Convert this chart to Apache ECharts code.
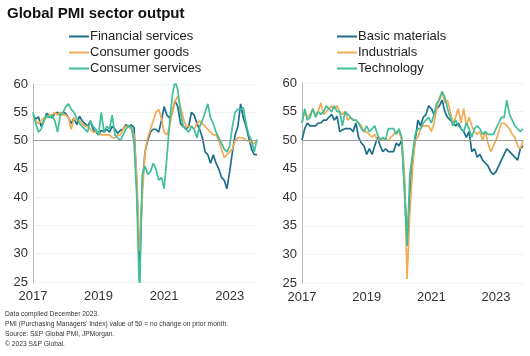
<!DOCTYPE html>
<html><head><meta charset="utf-8">
<script src="https://cdn.jsdelivr.net/npm/echarts@6/dist/echarts.min.js"></script>
<style>html,body{margin:0;padding:0;background:#fff}#c{width:530px;height:356px}</style>
</head><body><div id="c"></div>
<script>
// Monthly, Jan 2017 .. Nov 2023
const months = [];
for (let y = 2017; y <= 2023; y++) for (let m = 1; m <= 12; m++) { if (y === 2023 && m === 12) break; months.push(y + '-' + String(m).padStart(2, '0')); }
const yearTicks = ['2017', '2019', '2021', '2023'];

const financialServices = [
54.5,53.8,54.2,52.5,53.5,54.8,54.5,54.0,54.8,55.0,54.5,55.0,
54.8,54.0,53.0,54.0,52.8,54.3,53.5,53.0,52.5,53.5,52.0,51.5,
51.0,51.8,51.5,52.0,51.5,52.5,52.0,51.3,51.8,52.0,52.8,52.5,
52.8,52.3,42.0,27.0,42.0,48.0,50.0,51.5,52.0,52.0,51.5,53.5,
56.0,54.5,54.0,55.0,57.0,56.0,53.0,52.5,52.0,52.5,55.0,54.5,
53.0,52.0,50.5,48.0,47.5,46.0,47.5,46.0,45.0,43.5,43.0,41.5,
44.5,48.0,51.0,52.5,56.5,54.0,52.5,50.5,48.5,47.5,47.5];
const consumerGoods = [
54.0,53.5,53.0,53.5,54.0,54.0,54.5,54.5,55.0,54.5,55.0,54.5,
54.5,54.0,52.0,54.0,53.5,53.5,53.0,52.5,52.5,52.0,51.5,51.5,
51.5,51.0,51.0,51.0,51.0,50.5,50.5,51.0,51.0,52.0,52.5,52.5,
52.0,51.0,43.5,30.5,40.0,48.0,50.5,52.0,53.5,55.0,55.5,54.0,
51.5,51.0,52.5,55.0,57.0,57.8,56.0,54.0,52.5,52.5,52.5,52.0,
53.0,53.5,53.0,52.5,52.0,51.5,51.0,51.0,50.0,48.5,47.0,47.5,
48.0,48.5,50.0,50.5,50.5,50.5,50.0,50.0,49.5,49.5,50.0];
const consumerServices = [
55.0,53.0,51.5,52.0,53.5,54.5,54.0,54.5,53.5,51.5,54.5,55.0,
56.0,56.5,55.5,55.0,54.0,53.0,52.5,52.0,51.5,53.5,52.5,52.0,
51.0,55.0,51.5,52.5,52.0,54.5,51.0,50.5,50.0,51.0,52.0,52.5,
52.5,49.5,40.0,22.0,44.0,45.5,44.0,44.5,46.0,45.0,43.0,43.5,
41.5,47.0,53.0,58.0,60.5,59.0,55.0,52.5,52.0,51.5,52.5,52.0,
50.5,52.5,53.5,55.0,56.5,54.0,53.0,51.5,50.5,49.5,48.5,48.0,
49.0,52.5,55.0,55.5,55.5,55.8,53.0,51.0,50.0,48.0,50.2];

const basicMaterials = [
50.0,52.0,53.0,52.5,52.5,52.5,53.0,53.0,53.5,53.5,54.0,54.5,
53.5,54.2,51.5,51.8,52.0,52.0,52.0,51.5,53.0,50.5,49.5,49.0,
47.5,48.5,47.5,49.0,50.5,49.0,48.0,48.5,48.0,48.0,48.0,49.5,
49.0,50.0,42.5,32.0,40.0,46.5,50.0,53.5,52.5,54.0,54.5,56.0,
55.5,54.5,55.5,56.0,57.0,55.0,54.0,53.5,53.0,52.5,53.0,52.0,
51.5,50.5,51.5,48.0,48.5,47.0,47.5,46.5,46.0,45.5,44.5,44.0,
44.5,45.5,46.5,47.5,48.5,48.0,47.5,47.0,46.5,48.5,49.0];
const industrials = [
53.0,55.0,54.0,54.5,55.5,54.5,55.0,56.5,54.5,55.0,55.5,56.0,
55.5,56.0,55.0,54.5,55.0,53.5,54.0,53.5,53.5,53.0,52.5,51.5,
51.5,51.0,50.5,51.0,50.0,50.0,50.0,50.0,50.0,50.5,51.0,51.5,
51.5,50.0,44.0,25.7,37.0,45.0,50.0,50.5,52.0,52.5,52.5,52.5,
51.5,53.0,55.5,57.5,58.5,56.5,57.0,55.0,53.0,54.0,55.5,53.0,
55.5,52.5,54.0,52.5,51.5,51.0,51.5,50.0,51.5,49.5,48.0,49.0,
50.0,51.5,53.0,53.0,52.5,52.0,51.0,50.5,49.0,48.5,50.0];
const technology = [
53.0,55.5,53.5,54.0,55.5,54.0,55.0,54.5,55.0,56.0,55.5,55.0,
56.0,55.0,55.0,52.5,55.0,54.5,54.0,53.5,53.5,53.0,52.0,51.5,
52.5,51.5,52.0,52.5,51.0,50.0,50.5,50.0,52.0,52.0,52.0,51.0,
52.0,50.5,41.0,31.5,44.0,47.5,51.0,52.0,52.0,53.0,53.5,54.0,
53.0,54.5,56.5,57.0,58.5,57.5,55.5,54.0,52.5,53.5,52.5,52.0,
51.5,53.0,52.0,50.5,52.0,52.5,52.0,51.0,51.5,51.0,51.0,51.0,
52.0,53.0,54.0,54.0,57.0,54.5,53.5,52.5,52.0,51.5,52.0];

const C_DARK = '#1d6f8c', C_ORANGE = '#f2ab55', C_GREEN = '#40bf9b';
const FONT = 'Liberation Sans, Arial, sans-serif';

const chart = echarts.init(document.getElementById('c'));

function xAxis(gi) {
  return {
    type: 'category', gridIndex: gi, data: months, boundaryGap: false,
    axisLine: { show: false }, axisTick: { show: false },
    axisLabel: {
      color: '#333', fontSize: 13, fontFamily: FONT, margin: 8,
      interval: (i, v) => v.endsWith('-01') && yearTicks.includes(v.slice(0, 4)),
      formatter: v => v.slice(0, 4)
    }
  };
}
function yAxis(gi) {
  return {
    type: 'value', gridIndex: gi, min: 25, max: 60, interval: 5,
    axisLine: { show: true, lineStyle: { color: '#bbb', width: 1 } },
    axisTick: { show: false },
    axisLabel: { color: '#333', fontSize: 13, fontFamily: FONT, margin: 5 },
    splitLine: { show: true, lineStyle: { color: '#e4e4e4', type: 'dotted', width: 1 } }
  };
}
function line(name, data, color, gi, withRef) {
  const s = {
    name, type: 'line', data, xAxisIndex: gi, yAxisIndex: gi,
    showSymbol: false, symbol: 'none', clip: true,
    lineStyle: { color, width: 1.7 }, itemStyle: { color }
  };
  if (withRef) s.markLine = {
    silent: true, symbol: 'none', label: { show: false },
    lineStyle: { color: '#999', width: 1, type: 'solid' },
    data: [{ yAxis: 50 }]
  };
  return s;
}
const legendBase = {
  orient: 'vertical', icon: 'rect', itemWidth: 20, itemHeight: 2, itemGap: 3,
  textStyle: { color: '#222', fontSize: 13, fontFamily: FONT, padding: [0, 0, 0, -4] },
  selectedMode: false, padding: 0
};

chart.setOption({
  animation: false,
  title: {
    text: 'Global PMI sector output', left: 7, top: 6, padding: 0,
    textStyle: { fontSize: 15, fontWeight: 'bold', color: '#111', fontFamily: FONT }
  },
  legend: [
    Object.assign({}, legendBase, { left: 69, top: 30, data: ['Financial services', 'Consumer goods', 'Consumer services'] }),
    Object.assign({}, legendBase, { left: 337, top: 30, data: ['Basic materials', 'Industrials', 'Technology'] })
  ],
  grid: [
    { left: 33, top: 84, width: 224, height: 198 },
    { left: 302, top: 83, width: 221, height: 200 }
  ],
  xAxis: [xAxis(0), xAxis(1)],
  yAxis: [yAxis(0), yAxis(1)],
  series: [
    line('Financial services', financialServices, C_DARK, 0, true),
    line('Consumer goods', consumerGoods, C_ORANGE, 0),
    line('Consumer services', consumerServices, C_GREEN, 0),
    line('Basic materials', basicMaterials, C_DARK, 1, true),
    line('Industrials', industrials, C_ORANGE, 1),
    line('Technology', technology, C_GREEN, 1)
  ],
  graphic: [
    'Data compiled December 2023.',
    'PMI (Purchasing Managers\' Index) value of 50 = no change on prior month.',
    'Source: S&P Global PMI, JPMorgan.',
    '\u00A9 2023 S&P Global.'
  ].map((t, i) => ({
    type: 'text', left: 5, top: 311 + i * 10,
    style: { text: t, fill: '#333', font: '6.7px ' + FONT }
  }))
});
</script></body></html>
